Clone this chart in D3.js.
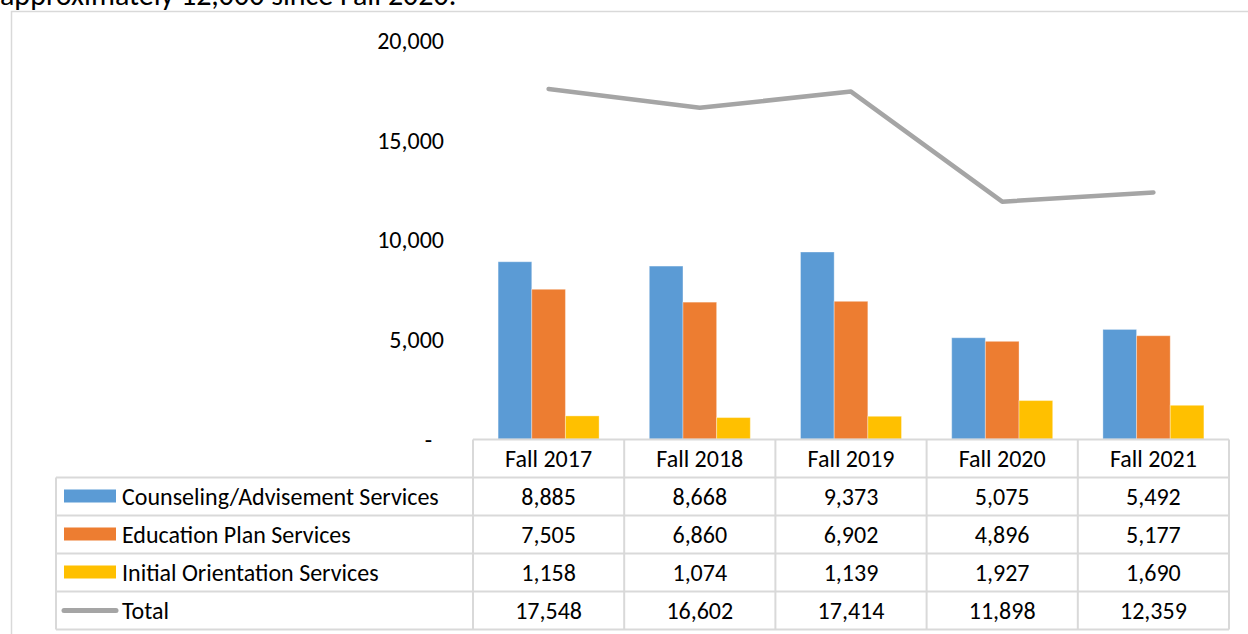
<!DOCTYPE html>
<html>
<head>
<meta charset="utf-8">
<script src="https://cdn.jsdelivr.net/npm/d3@7"></script>
<style>
  html, body { margin: 0; padding: 0; background: #fff; overflow: hidden; }
  svg { display: block; font-family: Carlito, Calibri, Lato, sans-serif; }
</style>
</head>
<body>
<svg id="chart" width="1248" height="634"></svg>
<script>
const categories = ["Fall 2017", "Fall 2018", "Fall 2019", "Fall 2020", "Fall 2021"];
const seriesNames = ["Counseling/Advisement Services", "Education Plan Services", "Initial Orientation Services"];
const counseling = [8885, 8668, 9373, 5075, 5492];
const education = [7505, 6860, 6902, 4896, 5177];
const orientation = [1158, 1074, 1139, 1927, 1690];
const totalName = "Total";
const total = [17548, 16602, 17414, 11898, 12359];
const yTicks = [0, 5000, 10000, 15000, 20000];
const caption = "approximately 12,000 since Fall 2020.";

const colors = ["#5B9BD5", "#ED7D31", "#FFC000"];
const lineColor = "#A5A5A5";
const gridColor = "#D9D9D9";
const barSeries = [counseling, education, orientation];

const svg = d3.select("#chart");
const fmt = d3.format(",");
const FONT = "Carlito, Calibri, Lato, sans-serif";
const FS = 24;

// caption (clipped at top, as in the reference)
svg.append("text").attr("x", 0).attr("y", 5).attr("font-size", 30).attr("fill", "#000").text(caption);

// outer chart border
svg.append("rect").attr("x", 11.5).attr("y", 11.5).attr("width", 1300).attr("height", 700)
  .attr("fill", "none").attr("stroke", gridColor).attr("stroke-width", 1.5);

const x = d3.scaleBand().domain(categories).range([473, 1229]).padding(0);
const x1 = d3.scaleBand().domain(d3.range(3)).range([x.bandwidth() * 0.166, x.bandwidth() * 0.834]).padding(0);
const y = d3.scaleLinear().domain([0, 20000]).range([439, 40]);

// y axis labels
const yAxis = d3.axisLeft(y).tickValues(yTicks).tickSize(0).tickPadding(0)
  .tickFormat(d => d === 0 ? "-" : fmt(d));
const ya = svg.append("g").attr("transform", "translate(444,0)").call(yAxis)
  .attr("font-family", FONT).attr("font-size", FS);
ya.select(".domain").remove();
ya.selectAll("text").attr("fill", "#000")
  .attr("dy", "0.35em").attr("dx", d => d === 0 ? -12 : 0);

// bars
barSeries.forEach((vals, si) => {
  svg.append("g").selectAll("rect").data(vals).join("rect")
    .attr("x", (d, i) => x(categories[i]) + x1(si))
    .attr("width", x1.bandwidth())
    .attr("y", d => y(d))
    .attr("height", d => y(0) - y(d))
    .attr("fill", colors[si])
    .attr("stroke", "rgba(255,255,255,0.35)").attr("stroke-width", 1);
});

// total line
const line = d3.line().x((d, i) => x(categories[i]) + x.bandwidth() / 2).y(d => y(d));
svg.append("path").datum(total).attr("d", line).attr("fill", "none")
  .attr("stroke", lineColor).attr("stroke-width", 4.5).attr("stroke-linecap", "round").attr("stroke-linejoin", "round");

// data table
const tableLeft = 56, tableRight = 1229;
const rowTops = [439.5, 477.5, 515.5, 553.5, 591.5, 629.5];
const tg = svg.append("g").attr("font-size", FS);
tg.append("line").attr("x1", x.range()[0]).attr("x2", tableRight).attr("y1", rowTops[0]).attr("y2", rowTops[0])
  .attr("stroke", gridColor).attr("stroke-width", 2);
rowTops.slice(1).forEach(yy => {
  tg.append("line").attr("x1", tableLeft).attr("x2", tableRight).attr("y1", yy).attr("y2", yy)
    .attr("stroke", gridColor).attr("stroke-width", 2);
});
tg.append("line").attr("x1", tableLeft).attr("x2", tableLeft).attr("y1", rowTops[1]).attr("y2", rowTops[5])
  .attr("stroke", gridColor).attr("stroke-width", 2);
categories.concat([null]).forEach(c => {
  const xx = c === null ? tableRight : x(c);
  tg.append("line").attr("x1", xx).attr("x2", xx).attr("y1", rowTops[0]).attr("y2", rowTops[5])
    .attr("stroke", gridColor).attr("stroke-width", 2);
});
categories.forEach(c => {
  tg.append("text").attr("x", x(c) + x.bandwidth() / 2).attr("y", (rowTops[0] + rowTops[1]) / 2)
    .attr("dy", "0.35em").attr("text-anchor", "middle").attr("fill", "#000").text(c);
});
const rows = [
  { name: seriesNames[0], vals: counseling, color: colors[0], type: "bar" },
  { name: seriesNames[1], vals: education, color: colors[1], type: "bar" },
  { name: seriesNames[2], vals: orientation, color: colors[2], type: "bar" },
  { name: totalName, vals: total, color: lineColor, type: "line" }
];
rows.forEach((r, ri) => {
  const cy = (rowTops[ri + 1] + rowTops[ri + 2]) / 2;
  if (r.type === "bar") {
    tg.append("rect").attr("x", 64).attr("y", cy - 7).attr("width", 52).attr("height", 13).attr("fill", r.color);
  } else {
    tg.append("line").attr("x1", 64).attr("x2", 116).attr("y1", cy).attr("y2", cy)
      .attr("stroke", r.color).attr("stroke-width", 5).attr("stroke-linecap", "round");
  }
  tg.append("text").attr("x", 122).attr("y", cy).attr("dy", "0.35em").attr("fill", "#000").text(r.name);
  r.vals.forEach((v, i) => {
    tg.append("text").attr("x", x(categories[i]) + x.bandwidth() / 2).attr("y", cy).attr("dy", "0.35em")
      .attr("text-anchor", "middle").attr("fill", "#000").text(fmt(v));
  });
});
</script>
</body>
</html>
